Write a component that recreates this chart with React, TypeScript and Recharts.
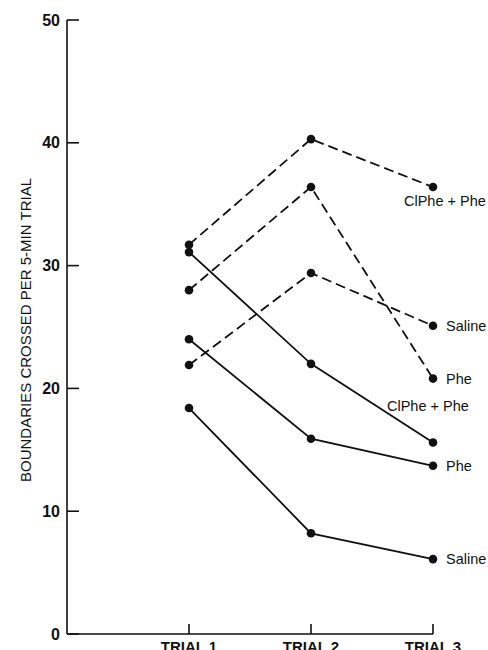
import { LineChart, Line, XAxis, YAxis, LabelList } from "recharts";

// trial positions and their axis labels
const trialIndex = [1, 2, 3];
const trialLabels = ["TRIAL 1", "TRIAL 2", "TRIAL 3"];
const yTicks = [0, 10, 20, 30, 40, 50];

// dashed group
const clPhePheDashed = [31.7, 40.3, 36.4];
const pheDashed = [28.0, 36.4, 20.8];
const salineDashed = [21.9, 29.4, 25.1];
// solid group
const clPhePheSolid = [31.1, 22.0, 15.6];
const pheSolid = [24.0, 15.9, 13.7];
const salineSolid = [18.4, 8.2, 6.1];

const ink = "#111";
const font = "'Liberation Sans', Arial, sans-serif";

const data = trialIndex.map((t, i) => ({
  trial: t,
  clPhePheDashed: clPhePheDashed[i],
  pheDashed: pheDashed[i],
  salineDashed: salineDashed[i],
  clPhePheSolid: clPhePheSolid[i],
  pheSolid: pheSolid[i],
  salineSolid: salineSolid[i],
}));

const series = [
  { key: "clPhePheDashed", label: "ClPhe + Phe", dashed: true, dx: -29, dy: 14 },
  { key: "pheDashed", label: "Phe", dashed: true, dx: 13, dy: 0 },
  { key: "salineDashed", label: "Saline", dashed: true, dx: 13, dy: 0 },
  { key: "clPhePheSolid", label: "ClPhe + Phe", dashed: false, dx: -46, dy: -36 },
  { key: "pheSolid", label: "Phe", dashed: false, dx: 13, dy: 0 },
  { key: "salineSolid", label: "Saline", dashed: false, dx: 13, dy: 0 },
];

function YTick(props: any) {
  const { x, y, payload } = props;
  return (
    <g>
      <line x1={x} x2={x + 12} y1={y} y2={y} stroke={ink} strokeWidth={1.6} />
      <text
        x={x - 7}
        y={y}
        textAnchor="end"
        dominantBaseline="central"
        fontFamily={font}
        fontWeight="bold"
        fontSize={16}
        fill={ink}
      >
        {String(payload.value)}
      </text>
    </g>
  );
}

function XTick(props: any) {
  const { x, y, payload } = props;
  const i = trialIndex.indexOf(payload.value);
  return (
    <g>
      <line x1={x} x2={x} y1={y} y2={y - 10} stroke={ink} strokeWidth={1.6} />
      <text
        x={x}
        y={y + 18}
        textAnchor="middle"
        fontFamily={font}
        fontWeight="bold"
        fontSize={15}
        fill={ink}
      >
        {trialLabels[i]}
      </text>
    </g>
  );
}

function endLabel(text: string, dx: number, dy: number) {
  return (props: any) => {
    const { x, y, index } = props;
    if (index !== trialIndex.length - 1) return null;
    return (
      <text
        x={x + dx}
        y={y + dy}
        dominantBaseline="central"
        fontFamily={font}
        fontSize={14.5}
        fill={ink}
      >
        {text}
      </text>
    );
  };
}

export default function App() {
  return (
    <div style={{ position: "absolute", left: 0, top: 0, background: "#fff" }}>
      <LineChart
        width={488}
        height={650}
        data={data}
        margin={{ top: 20, right: 55, bottom: 0, left: 0 }}
      >
        <XAxis
          dataKey="trial"
          type="number"
          domain={[0, 3]}
          ticks={trialIndex}
          height={16}
          tickSize={0}
          tickMargin={0}
          tickLine={false}
          axisLine={{ stroke: ink, strokeWidth: 1.6 }}
          tick={<XTick />}
        />
        <YAxis
          type="number"
          domain={[0, 50]}
          ticks={yTicks}
          width={67}
          tickSize={0}
          tickMargin={0}
          tickLine={false}
          axisLine={{ stroke: ink, strokeWidth: 1.6 }}
          tick={<YTick />}
          label={{
            content: (p: any) => {
              const vb = p.viewBox || { x: 0, y: 20, width: 67, height: 614 };
              const cx = vb.x + 25;
              const cy = vb.y + vb.height / 2 + 3;
              return (
                <text
                  x={cx}
                  y={cy}
                  transform={`rotate(-90 ${cx} ${cy})`}
                  textAnchor="middle"
                  dominantBaseline="central"
                  fontFamily={font}
                  fontSize={15}
                  fill={ink}
                >
                  BOUNDARIES CROSSED PER 5-MIN TRIAL
                </text>
              );
            },
          }}
        />
        {series.map((s) => (
          <Line
            key={s.key}
            dataKey={s.key}
            type="linear"
            stroke={ink}
            strokeWidth={1.8}
            strokeDasharray={s.dashed ? "10 5" : undefined}
            dot={{ r: 4.3, fill: ink, stroke: ink, strokeWidth: 0 }}
            isAnimationActive={false}
          >
            <LabelList dataKey={s.key} content={endLabel(s.label, s.dx, s.dy)} />
          </Line>
        ))}
      </LineChart>
    </div>
  );
}
